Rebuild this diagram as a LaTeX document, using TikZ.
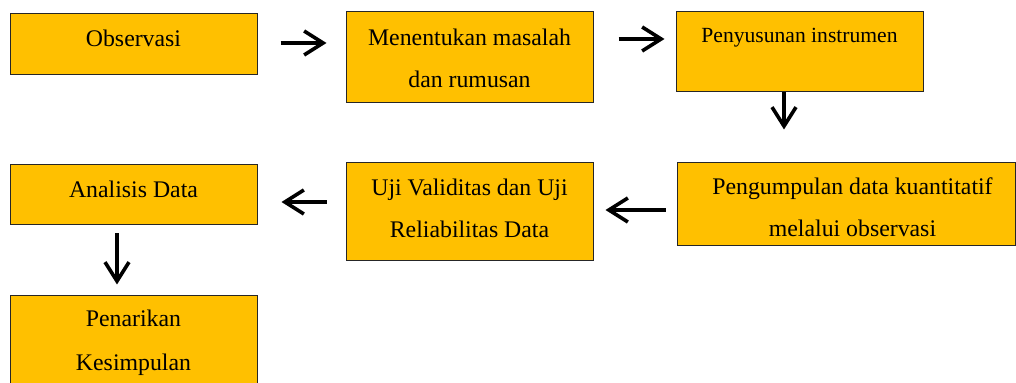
\documentclass[tikz,border=0pt]{standalone}
\usepackage{fontspec}
\setmainfont{Liberation Serif}
\usetikzlibrary{arrows.meta,calc}
\definecolor{boxgold}{RGB}{255,192,0}
\newcommand{\mainfnt}{\fontsize{11.9}{14.2}\selectfont}
\newcommand{\smallfnt}{\fontsize{10.8}{13}\selectfont}
\newcommand{\lines}[1]{\begin{tabular}[t]{@{}c@{}}#1\end{tabular}}
\newcommand{\lineshift}[1]{\begin{tabular}[t]{@{\hspace{6.5pt}}c@{}}#1\end{tabular}}
\tikzset{
  box/.style={draw=black!85, line width=0.5pt, fill=boxgold, inner sep=0pt,
    minimum width=123.5pt, font=\mainfnt},
  arr/.style={line width=1.8pt, -{Straight Barb[length=9.5pt,width=12pt]}}
}
\begin{document}
\begin{tikzpicture}[x=0.5pt,y=-0.5pt]
\useasboundingbox (0,0) rectangle (1016,383);
\node[box, text height=16.5pt, text depth=14pt] (n1) at (133.5,44.5) {Observasi};
\node[box, text height=17pt, text depth=28.5pt] (n2) at (469.5,57.5) {\lines{Menentukan masalah\\[6.5pt] dan rumusan}};
\node[box, text height=15.5pt, text depth=24.5pt, font=\smallfnt] (n3) at (799.5,52) {Penyusunan instrumen};
\node[box, minimum width=169pt, text height=16pt, text depth=25.5pt] (n4) at (846,204.5) {\lineshift{Pengumpulan data kuantitatif\\[6.5pt] melalui observasi}};
\node[box, text height=16.5pt, text depth=32.5pt] (n5) at (469.5,212) {\lines{Uji Validitas dan Uji\\[6.5pt] Reliabilitas Data}};
\node[box, text height=16.5pt, text depth=13.5pt] (n6) at (133.5,195) {Analisis Data};
\node[box, text height=15.5pt, text depth=36.5pt] (n7) at (133.5,348) {\lines{Penarikan\\[7.5pt] Kesimpulan}};
\draw[arr] ($(n1.east)+(11.5pt,0.75pt)$) -- ($(n1.east -| n2.west)+(-9.5pt,0.75pt)$);
\draw[arr] ($(n2.east)+(12.5pt,9.25pt)$) -- ($(n2.east -| n3.west)+(-5.5pt,9.25pt)$);
\draw[arr] ($(n3.south)+(-7.75pt,0pt)$) -- ($(n3.south |- n4.north)+(-7.75pt,16.5pt)$);
\draw[arr] ($(n4.west)+(-5.5pt,-2.75pt)$) -- ($(n4.west -| n5.east)+(6pt,-2.75pt)$);
\draw[arr] ($(n5.west)+(-9.5pt,5pt)$) -- ($(n5.west -| n6.east)+(12pt,5pt)$);
\draw[arr] ($(n6.south)+(-8.25pt,-4pt)$) -- ($(n6.south |- n7.north)+(-8.25pt,5.5pt)$);
\end{tikzpicture}
\end{document}
